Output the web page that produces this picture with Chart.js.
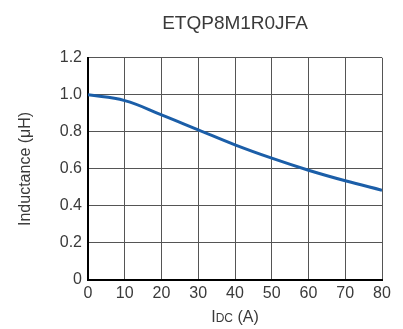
<!DOCTYPE html>
<html>
<head>
<meta charset="utf-8">
<script src="https://cdn.jsdelivr.net/npm/chart.js@4/dist/chart.umd.min.js"></script>
<style>
  html, body { margin: 0; padding: 0; background: #fff; }
  #wrap { width: 403px; height: 329px; position: relative; }
</style>
</head>
<body>
<div id="wrap"><canvas id="chart"></canvas></div>
<script>
const currents = [0, 10, 20, 30, 40, 50, 60, 70, 80];
const inductance = [1.0, 0.969, 0.892, 0.811, 0.73, 0.658, 0.593, 0.536, 0.485];
const partName = 'ETQP8M1R0JFA';
const yTitle = 'Inductance (\u03bcH)';

const FONT = '"Liberation Sans", Arial, sans-serif';
const TEXT = '#3a3a3a';

// x title with small "DC" caps after the I
const xTitlePlugin = {
  id: 'xTitle',
  afterDraw(chart) {
    const { ctx, chartArea } = chart;
    const big = '16px ' + FONT, small = '12px ' + FONT;
    const parts = [['I', big], ['DC', small], [' (A)', big]];
    ctx.save();
    ctx.fillStyle = TEXT;
    ctx.textBaseline = 'alphabetic';
    let total = 0;
    parts.forEach(p => { ctx.font = p[1]; total += ctx.measureText(p[0]).width; });
    let x = (chartArea.left + chartArea.right) / 2 - total / 2;
    const y = 322;
    parts.forEach(p => {
      ctx.font = p[1];
      ctx.fillText(p[0], x, y);
      x += ctx.measureText(p[0]).width;
    });
    ctx.restore();
  }
};

new Chart(document.getElementById('chart'), {
  type: 'line',
  data: {
    datasets: [{
      data: currents.map((c, i) => ({ x: c, y: inductance[i] })),
      borderColor: '#1b5ea8',
      borderWidth: 3,
      pointRadius: 0,
      tension: 0.4,
      fill: false
    }]
  },
  options: {
    responsive: true,
    maintainAspectRatio: false,
    animation: false,
    layout: { padding: { left: 16, right: 21, top: 0, bottom: 0 } },
    plugins: {
      legend: { display: false },
      tooltip: { enabled: false },
      title: {
        display: true,
        text: partName,
        fullSize: false,
        color: TEXT,
        font: { family: FONT, size: 19, weight: 'normal' },
        padding: { top: 12, bottom: 23 }
      }
    },
    scales: {
      x: {
        type: 'linear',
        min: 0, max: 80,
        ticks: { stepSize: 10, color: TEXT, font: { family: FONT, size: 16 }, padding: 4, maxRotation: 0 },
        grid: { color: '#555', lineWidth: 1, drawTicks: false },
        border: { color: '#000', width: 2 },
        afterFit(scale) { scale.height = 49; }
      },
      y: {
        min: 0, max: 1.2,
        ticks: {
          stepSize: 0.2, color: TEXT, font: { family: FONT, size: 16 }, padding: 6,
          callback: v => (Math.abs(v) < 1e-9 ? '0' : v.toFixed(1))
        },
        grid: { color: '#555', lineWidth: 1, drawTicks: false },
        border: { color: '#000', width: 2 },
        title: { display: true, text: yTitle, color: TEXT, font: { family: FONT, size: 16 }, padding: { top: 0, bottom: 0 } },
        afterFit(scale) { scale.width = 72; }
      }
    }
  },
  plugins: [xTitlePlugin]
});
</script>
</body>
</html>
